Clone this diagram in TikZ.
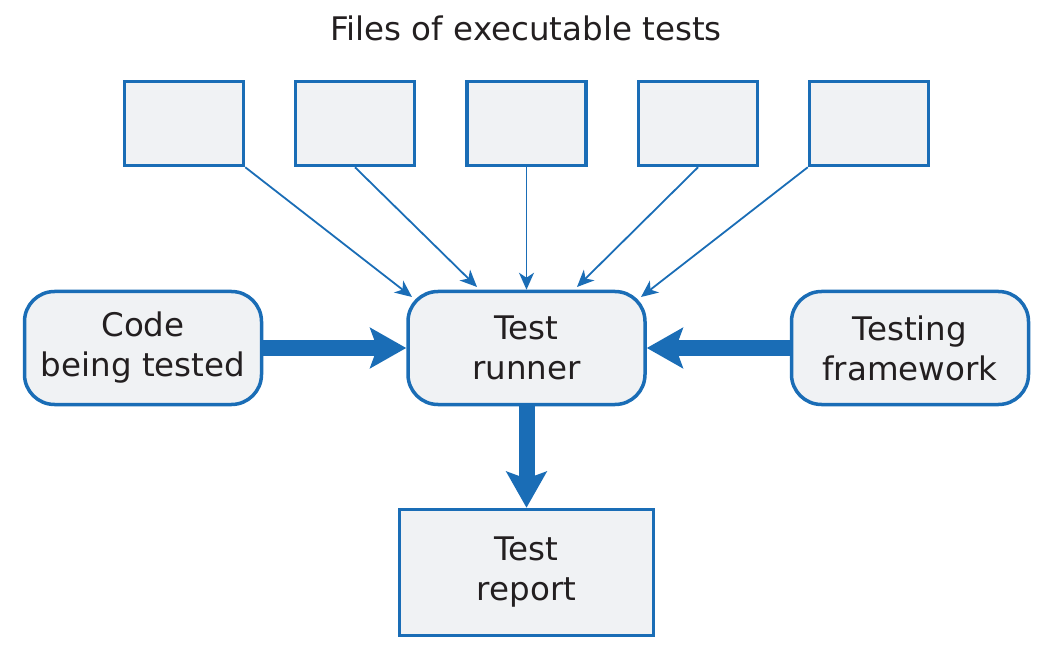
\documentclass[tikz,border=0pt]{standalone}
\usepackage{fontspec}
\setmainfont{DejaVu Sans}
\usetikzlibrary{arrows.meta}
\definecolor{bl}{HTML}{1A6DB6}
\definecolor{fl}{HTML}{F0F2F4}
\definecolor{tx}{HTML}{231F20}
\begin{document}
\begin{tikzpicture}[x=1pt,y=-1pt,
  filebox/.style={draw=bl,fill=fl,line width=3.5pt,minimum width=119pt,minimum height=84pt,inner sep=0pt},
  rbox/.style={draw=bl,fill=fl,line width=3.5pt,rounded corners=30pt,minimum width=237pt,minimum height=113pt,inner sep=0pt,align=center,font=\fontsize{32.5}{40}\selectfont,text=tx},
  sbox/.style={draw=bl,fill=fl,line width=3.5pt,minimum width=254pt,minimum height=126pt,inner sep=0pt,align=center,font=\fontsize{32.5}{40}\selectfont,text=tx},
  thin/.style={draw=bl,line width=1.8pt,-{Stealth[length=17pt,width=15pt,inset=5pt]}},
  thick/.style={draw=bl,line width=16pt,-{Stealth[length=36pt,width=40pt,inset=7pt]}}]
\useasboundingbox (0,0) rectangle (1037,647);
\node[font=\fontsize{32.5}{40}\selectfont,text=tx] (title) at (526,28) {Files of executable tests};
\node[filebox] (f1) at (184,123.5) {};
\node[filebox] (f2) at (355,123.5) {};
\node[filebox] (f3) at (526.5,123.5) {};
\node[filebox] (f4) at (698,123.5) {};
\node[filebox] (f5) at (869,123.5) {};
\node[rbox] (run) at (526.5,348) {Test\\runner};
\node[rbox] (code) at (143,348) {Code\\being tested};
\node[rbox] (fw) at (910,348) {Testing\\framework};
\node[sbox] (rep) at (526.5,572.5) {Test\\report};
\coordinate (t1) at (412,297);
\coordinate (t2) at (477,287);
\coordinate (t4) at (577,287);
\coordinate (t5) at (641,297);
\draw[thin] (f1.south east) -- (t1);
\draw[thin] (f2.south) -- (t2);
\draw[thin] (f3.south) -- (run.north);
\draw[thin] (f4.south) -- (t4);
\draw[thin] (f5.south west) -- (t5);
\draw[thick] (code.east) -- (run.west);
\draw[thick] (fw.west) -- (run.east);
\draw[thick] (run.south) -- (rep.north);
\end{tikzpicture}
\end{document}
